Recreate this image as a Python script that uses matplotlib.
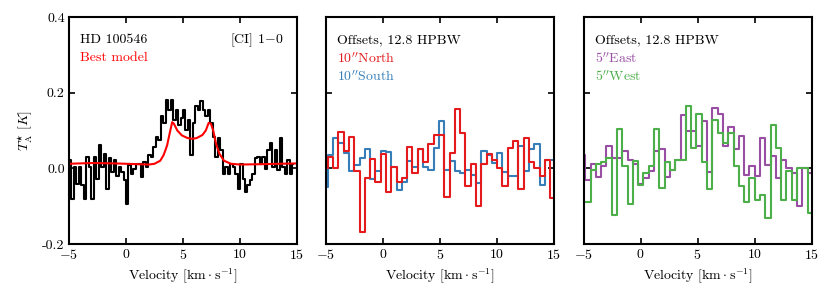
import numpy as np
import matplotlib
matplotlib.use("Agg")
import matplotlib.pyplot as plt

plt.rcParams['font.family'] = 'cmr10'
plt.rcParams['mathtext.fontset'] = 'cm'
plt.rcParams['axes.formatter.use_mathtext'] = True
plt.rcParams['font.size'] = 10

# HD 100546 [CI] 1-0 spectrum (channel centres + Tmb)
ci_start, ci_step = -4.89, 0.2174
ci_temp = [0.021, -0.081, 0.004, -0.041, 0.004, -0.045, -0.081, 0.030, 0.004, -0.081,
           0.030, -0.028, 0.061, 0.004, 0.039, -0.054, 0.026, -0.010, 0.021, -0.019,
           0.004, -0.010, -0.032, -0.094, 0.008, -0.014, -0.001, 0.012, 0.012, -0.023,
           0.017, 0.004, 0.035, 0.030, 0.057, 0.084, 0.075, 0.137, 0.119, 0.181,
           0.155, 0.181, 0.128, 0.155, 0.115, 0.132, 0.155, 0.101, 0.128, 0.035,
           0.119, 0.164, 0.155, 0.177, 0.155, 0.137, 0.155, 0.119, 0.084, 0.030,
           0.079, 0.048, -0.014, 0.004, -0.014, 0.012, 0.004, -0.014, -0.054, 0.012,
           -0.028, -0.063, -0.045, -0.032, -0.014, 0.026, 0.030, 0.012, 0.030, -0.001,
           0.048, 0.066, 0.004, 0.048, -0.005, 0.079, 0.004, -0.014, 0.021, -0.014, 0.012]

# best model curve
model_v = [-5, -3, -1, 1, 2, 2.5, 3.0, 3.3, 3.6, 3.85, 4.05, 4.2, 4.5, 4.9, 5.4, 5.8,
           6.2, 6.7, 7.0, 7.25, 7.45, 7.65, 7.9, 8.2, 8.6, 9.2, 10, 12, 15]
model_t = [0.012, 0.014, 0.013, 0.011, 0.010, 0.012, 0.020, 0.035, 0.060, 0.095, 0.122,
           0.118, 0.100, 0.087, 0.080, 0.078, 0.080, 0.088, 0.100, 0.120, 0.118, 0.100,
           0.065, 0.038, 0.020, 0.012, 0.010, 0.011, 0.013]

# offset pointings (channel grid)
off_start, off_step = -5.08, 0.4645
north = [0.0, 0.03, 0.0, 0.095, 0.045, 0.083, -0.006, -0.168, -0.025, 0.025,
         -0.035, 0.038, -0.063, 0.004, -0.036, -0.026, 0.057, -0.012, 0.05, 0.018,
         0.065, 0.087, 0.087, -0.076, 0.041, 0.156, 0.094, -0.046, 0.012, -0.099,
         0.012, 0.038, 0.023, 0.0, -0.046, 0.054, 0.072, -0.055, 0.079, 0.016,
         0.0, -0.02, 0.021, -0.079, -0.079]
south = [-0.05, 0.034, 0.079, 0.068, 0.041, -0.006, 0.01, 0.028, 0.05, -0.028,
         -0.006, 0.045, 0.043, 0.003, -0.057, -0.035, 0.019, 0.004, 0.05, 0.004,
         -0.004, 0.054, 0.125, -0.004, 0.019, -0.006, -0.012, -0.005, -0.018, -0.04,
         0.047, 0.035, 0.014, 0.041, -0.01, -0.02, -0.02, 0.059, -0.006, 0.052,
         0.065, -0.044, 0.021, 0.021, 0.021]
east = [0.036, -0.03, 0.012, -0.023, 0.007, 0.06, 0.028, 0.026, 0.045, 0.023,
        0.012, -0.041, -0.026, -0.008, 0.045, 0.05, -0.023, -0.004, 0.023, 0.14,
        0.099, 0.099, 0.059, 0.125, -0.011, 0.16, 0.143, 0.059, 0.11, 0.052,
        0.085, -0.017, 0.005, -0.021, 0.081, 0.01, 0.032, -0.026, 0.021, 0.0,
        -0.012, -0.1, 0.0, -0.012, -0.012]
west = [-0.09, -0.09, -0.004, 0.012, 0.016, 0.026, -0.124, 0.103, 0.005, -0.094,
        0.019, -0.044, -0.012, 0.005, 0.105, -0.052, 0.016, -0.004, 0.023, 0.023,
        0.164, 0.054, 0.143, 0.016, -0.055, 0.128, 0.094, 0.068, 0.094, 0.005,
        -0.048, -0.09, -0.026, -0.084, -0.07, -0.132, 0.114, 0.054, -0.084, -0.008,
        -0.084, 0.0, 0.0, -0.119, -0.119]

ci_vel = ci_start + ci_step * np.arange(len(ci_temp))
off_vel = off_start + off_step * np.arange(len(north))

c_red = '#e41a1c'
c_blue = '#377eb8'
c_purple = '#984ea3'
c_green = '#4daf4a'

fig = plt.figure(figsize=(8.3, 2.97), dpi=100)
lefts = [69 / 830, 326 / 830, 583.5 / 830]
axes = [fig.add_axes([l, 0.1785, 0.2747, 0.7643]) for l in lefts]

for ax in axes:
    ax.set_xlim(-5, 15)
    ax.set_ylim(-0.2, 0.4)
    ax.set_xticks([-5, 0, 5, 10, 15])
    ax.set_yticks([-0.2, 0.0, 0.2, 0.4])
    ax.tick_params(direction='in', top=True, right=True, length=4.5, width=1.2, pad=3)
    for s in ax.spines.values():
        s.set_linewidth(1.5)
    ax.set_xlabel(r'Velocity [$\mathrm{km\cdot s^{-1}}$]', labelpad=3)

ax1, ax2, ax3 = axes
ax1.yaxis.set_major_formatter(matplotlib.ticker.FormatStrFormatter('%.1f'))
ax1.set_ylabel(r'$T_{\mathrm{A}}^{\star}\ [K]$', labelpad=5)
ax2.set_yticklabels([])
ax3.set_yticklabels([])

# panel 1
ax1.step(ci_vel, ci_temp, where='mid', color='black', lw=1.5)
ax1.plot(model_v, model_t, color='red', lw=1.5)
ax1.text(0.048, 0.899, 'HD 100546', transform=ax1.transAxes, va='center')
ax1.text(0.048, 0.819, 'Best model', color='red', transform=ax1.transAxes, va='center')
ax1.text(0.94, 0.899, r'[CI] 1$-$0', transform=ax1.transAxes, va='center', ha='right')

# panel 2
ax2.step(off_vel, south, where='mid', color=c_blue, lw=1.5)
ax2.step(off_vel, north, where='mid', color=c_red, lw=1.5)
ax2.text(0.048, 0.899, 'Offsets, 12.8 HPBW', transform=ax2.transAxes, va='center')
ax2.text(0.048, 0.819, r'10$^{\prime\prime}$North', color=c_red, transform=ax2.transAxes, va='center')
ax2.text(0.048, 0.736, r'10$^{\prime\prime}$South', color=c_blue, transform=ax2.transAxes, va='center')

# panel 3
ax3.step(off_vel, east, where='mid', color=c_purple, lw=1.5)
ax3.step(off_vel, west, where='mid', color=c_green, lw=1.5)
ax3.text(0.05, 0.899, 'Offsets, 12.8 HPBW', transform=ax3.transAxes, va='center')
ax3.text(0.05, 0.819, r'5$^{\prime\prime}$East', color=c_purple, transform=ax3.transAxes, va='center')
ax3.text(0.05, 0.736, r'5$^{\prime\prime}$West', color=c_green, transform=ax3.transAxes, va='center')

fig.savefig('out.png', dpi=100)
